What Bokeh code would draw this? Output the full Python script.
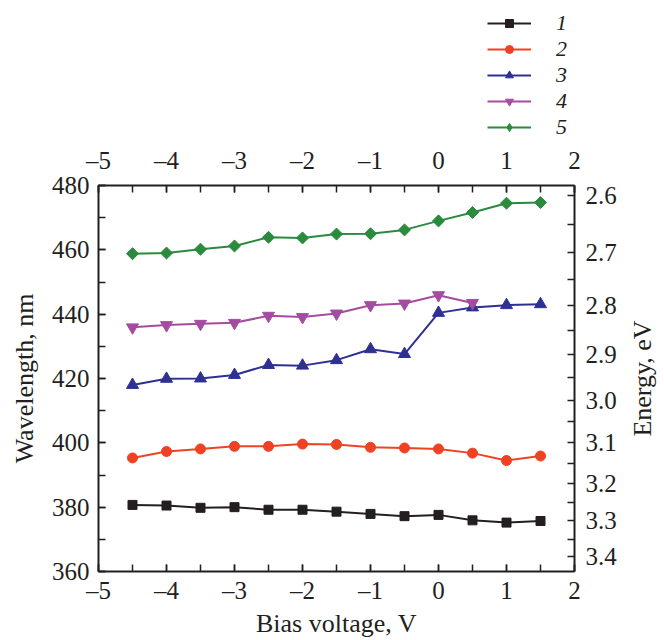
import math
from bokeh.plotting import figure
from bokeh.layouts import column, row
from bokeh.models import (LinearAxis, SingleIntervalTicker, FixedTicker, Legend, LegendItem, Range1d, Label)
from bokeh.embed import file_html
from bokeh.resources import INLINE

bias = [-4.5, -4.0, -3.5, -3.0, -2.5, -2.0, -1.5, -1.0, -0.5, 0.0, 0.5, 1.0, 1.5]
s1 = [380.7, 380.5, 379.8, 380.0, 379.2, 379.2, 378.6, 377.9, 377.2, 377.6, 375.9, 375.2, 375.7]
s2 = [395.3, 397.3, 398.1, 398.9, 398.9, 399.6, 399.5, 398.6, 398.4, 398.1, 396.8, 394.5, 395.9]
s3 = [418.0, 419.9, 420.0, 421.1, 424.2, 424.0, 425.7, 429.1, 427.6, 440.4, 442.1, 442.8, 443.1]
s4 = [435.9, 436.6, 437.0, 437.3, 439.5, 439.1, 440.2, 442.8, 443.3, 445.9, 443.5]
s5 = [458.8, 459.0, 460.2, 461.2, 463.9, 463.7, 464.9, 465.0, 466.2, 469.0, 471.6, 474.5, 474.7]
labels = ["1", "2", "3", "4", "5"]
energy_ticks = [2.6, 2.7, 2.8, 2.9, 3.0, 3.1, 3.2, 3.3, 3.4]
energy_minor = [2.65, 2.75, 2.85, 2.95, 3.05, 3.15, 3.25, 3.35]
x_ticks = [-5, -4, -3, -2, -1, 0, 1, 2]

FONT = "Liberation Serif"
FS = "25px"
LFS = "26px"
INK = "#231f20"
HC = 1239.84

yr = Range1d(360, 480)
p = figure(width=620, height=499, output_backend="svg", toolbar_location=None,
           x_range=Range1d(-5, 2), y_range=yr,
           min_border_left=98, min_border_right=46, min_border_top=44, min_border_bottom=68,
           x_axis_location=None, y_axis_location=None)
p.grid.visible = False
p.outline_line_color = None
p.background_fill_color = "white"
p.border_fill_color = "white"

xover = {v: (("\u2013" + str(abs(v))) if v < 0 else str(v)) for v in x_ticks}

def style(ax):
    ax.axis_line_width = 2
    ax.axis_line_color = INK
    ax.major_tick_in = 7
    ax.major_tick_out = 0
    ax.minor_tick_in = 7
    ax.minor_tick_out = 0
    ax.major_tick_line_width = 1.5
    ax.minor_tick_line_width = 1.5
    ax.major_tick_line_color = INK
    ax.minor_tick_line_color = INK
    ax.major_label_text_font = FONT
    ax.major_label_text_font_size = FS
    ax.major_label_text_color = INK
    ax.axis_label_text_font = FONT
    ax.axis_label_text_font_size = LFS
    ax.axis_label_text_font_style = "normal"
    ax.axis_label_text_color = INK

bottom = LinearAxis(ticker=SingleIntervalTicker(interval=1, num_minor_ticks=2),
                    axis_label="Bias voltage, V", major_label_overrides=xover)
style(bottom)
bottom.major_label_standoff = 5
bottom.axis_label_standoff = 2
p.add_layout(bottom, "below")

top = LinearAxis(ticker=SingleIntervalTicker(interval=1, num_minor_ticks=2), major_label_overrides=xover)
style(top)
top.major_label_standoff = 12
p.add_layout(top, "above")

left = LinearAxis(ticker=SingleIntervalTicker(interval=20, num_minor_ticks=2), axis_label="Wavelength, nm")
style(left)
left.major_label_standoff = 9
left.axis_label_standoff = 10
p.add_layout(left, "left")

rticks = [HC / e for e in energy_ticks]
rminor = [HC / e for e in energy_minor]
right = LinearAxis(ticker=FixedTicker(ticks=rticks, minor_ticks=rminor),
                   major_label_overrides={HC / e: "%.1f" % e for e in energy_ticks})
style(right)
right.major_label_standoff = 11
p.add_layout(right, "right")

# strip at the right holding the energy axis title (reads bottom to top)
rf = figure(width=44, height=499, output_backend="svg", toolbar_location=None,
            x_range=Range1d(0, 1), y_range=yr,
            min_border_left=0, min_border_right=0, min_border_top=44, min_border_bottom=68,
            x_axis_location=None, y_axis_location=None)
rf.grid.visible = False
rf.outline_line_color = None
rf.add_layout(Label(x=22, x_units="screen", y=420, text="Energy, eV", angle=math.pi / 2,
                    text_font=FONT, text_font_size=LFS, text_color=INK,
                    text_align="center", text_baseline="middle"))

# (x, y, colour, chart marker, size, angle, legend marker, legend size)
series = [
    (bias, s1, "#231f20", "square", 9, 0.0, "square", 10),
    (bias, s2, "#ef4123", "circle", 10, 0.0, "circle", 11),
    (bias, s3, "#2e3192", "triangle", 12, 0.0, "triangle", 13),
    (bias[:len(s4)], s4, "#a54ca0", "inverted_triangle", 12, 0.0, "inverted_triangle", 13),
    (bias, s5, "#2a8a3e", "square", 8.5, math.pi / 4, "diamond", 15),
]

# legend strip above the chart (its copies of the series lie outside its ranges)
lg = figure(width=664, height=141, output_backend="svg", toolbar_location=None,
            x_range=Range1d(100, 101), y_range=Range1d(1000, 1001),
            min_border_left=0, min_border_right=84, min_border_top=0, min_border_bottom=0,
            x_axis_location=None, y_axis_location=None)
lg.grid.visible = False
lg.outline_line_color = None

items = []
for (xs, ys, col, mk, sz, ang, lmk, lsz), lab in zip(series, labels):
    p.line(xs, ys, line_color=col, line_width=2)
    p.scatter(xs, ys, marker=mk, size=sz, angle=ang, fill_color=col, line_color=col)
    l1 = lg.line(xs, ys, line_color=col, line_width=2)
    l2 = lg.scatter(xs, ys, marker=lmk, size=lsz, fill_color=col, line_color=col)
    items.append(LegendItem(label=lab, renderers=[l1, l2]))

legend = Legend(items=items, location="top_right", border_line_color=None,
                background_fill_alpha=0, label_text_font=FONT, label_text_font_style="italic",
                label_text_font_size="22px", label_text_color=INK,
                glyph_width=44, glyph_height=20, spacing=0, label_standoff=25,
                padding=0, margin=10, label_height=20, label_width=14)
lg.add_layout(legend, "center")

layout = column(lg, row(p, rf, spacing=0), spacing=0)
open("out.html", "w").write(file_html(layout, INLINE))
